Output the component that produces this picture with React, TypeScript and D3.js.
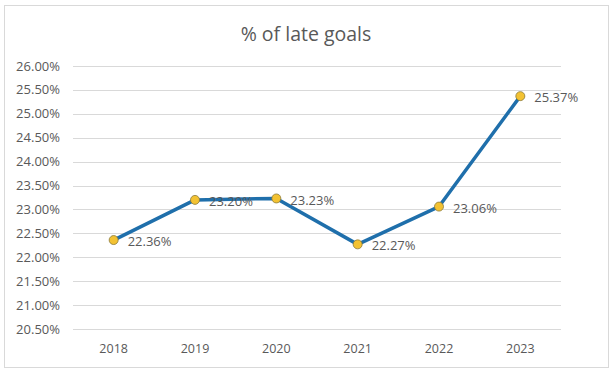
import React from "react";
import * as d3 from "d3";

const years = ["2018", "2019", "2020", "2021", "2022", "2023"];
const lateGoals = [22.36, 23.2, 23.23, 22.27, 23.06, 25.37];
const yTicks = [20.5, 21, 21.5, 22, 22.5, 23, 23.5, 24, 24.5, 25, 25.5, 26];

const width = 614;
const height = 372;
const margin = { top: 66, right: 53, bottom: 43, left: 73 };
const font = "'Open Sans', sans-serif";
const textColor = "#595959";

export default function App() {
  const x = d3
    .scaleBand()
    .domain(years)
    .range([margin.left, width - margin.right]);
  const y = d3
    .scaleLinear()
    .domain([20.5, 26])
    .range([height - margin.bottom, margin.top]);

  const line = d3
    .line<number>()
    .x((_, i) => (x(years[i]) as number) + x.bandwidth() / 2)
    .y((d) => y(d));

  return (
    <svg
      width={width}
      height={height}
      style={{ position: "absolute", left: 0, top: 0, background: "#fff" }}
    >
      <rect x={4.5} y={5.5} width={604} height={362} fill="#fff" stroke="#d9d9d9" />
      <text
        x={306}
        y={41}
        textAnchor="middle"
        fontFamily={font}
        fontSize={19.5}
        fill={textColor}
      >
        % of late goals
      </text>

      {/* gridlines + y labels */}
      {yTicks.map((t) => (
        <g key={t}>
          <line
            x1={margin.left}
            x2={width - margin.right}
            y1={Math.round(y(t)) + 0.5}
            y2={Math.round(y(t)) + 0.5}
            stroke="#d9d9d9"
          />
          <text
            x={60}
            y={y(t)}
            dy="0.35em"
            textAnchor="end"
            fontFamily={font}
            fontSize={13}
            fill={textColor}
          >
            {t.toFixed(2)}%
          </text>
        </g>
      ))}

      {/* x labels */}
      {years.map((yr) => (
        <text
          key={yr}
          x={(x(yr) as number) + x.bandwidth() / 2}
          y={353}
          textAnchor="middle"
          fontFamily={font}
          fontSize={12.5}
          fill={textColor}
        >
          {yr}
        </text>
      ))}

      <path
        d={line(lateGoals) || ""}
        fill="none"
        stroke="#1f6fab"
        strokeWidth={3.5}
        strokeLinejoin="round"
      />

      {lateGoals.map((v, i) => {
        const cx = (x(years[i]) as number) + x.bandwidth() / 2;
        return (
          <g key={years[i]}>
            <circle cx={cx} cy={y(v)} r={4.5} fill="#f3c232" stroke="#8a7a3a" strokeWidth={0.8} />
            <text
              x={cx + 14}
              y={y(v) + 1.5}
              dy="0.35em"
              fontFamily={font}
              fontSize={13}
              fill={textColor}
            >
              {v.toFixed(2)}%
            </text>
          </g>
        );
      })}
    </svg>
  );
}
